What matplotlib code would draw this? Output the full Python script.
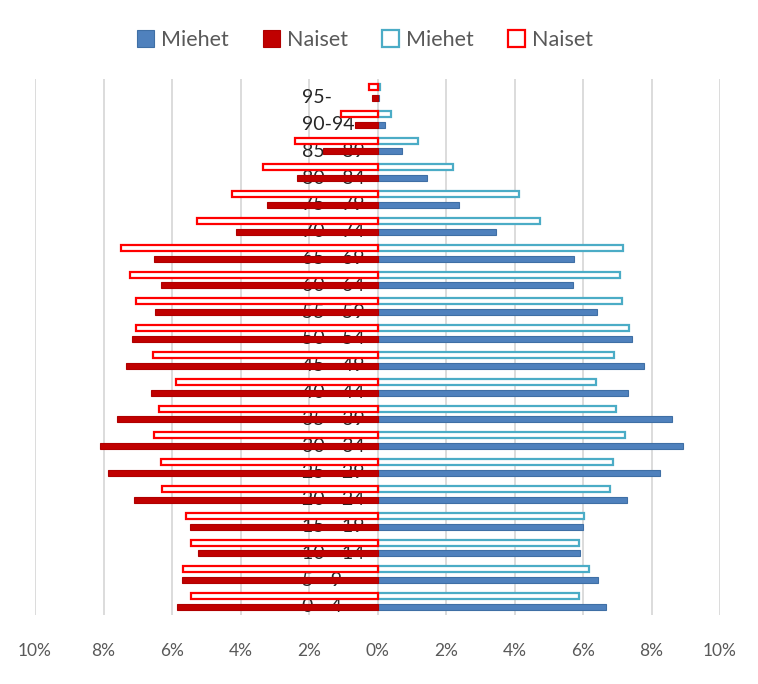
import matplotlib.pyplot as plt
import numpy as np

# age groups, bottom to top
ages = ['0 - 4', '5 - 9', '10 - 14', '15 - 19', '20 - 24', '25 - 29', '30 - 34',
        '35 - 39', '40 - 44', '45 - 49', '50 - 54', '55 - 59', '60 - 64',
        '65 - 69', '70 - 74', '75 - 79', '80 - 84', '85 - 89', '90-94', '95-']

# filled bars (%)
miehet_a = [6.68, 6.44, 5.91, 5.99, 7.28, 8.24, 8.92, 8.59, 7.32, 7.78, 7.43, 6.41,
            5.71, 5.74, 3.47, 2.38, 1.45, 0.72, 0.23, 0.05]
naiset_a = [5.86, 5.71, 5.25, 5.48, 7.11, 7.87, 8.10, 7.60, 6.61, 7.35, 7.17, 6.49,
            6.32, 6.52, 4.14, 3.24, 2.36, 1.58, 0.67, 0.17]
# outlined bars (%)
miehet_b = [5.89, 6.17, 5.88, 6.03, 6.80, 6.87, 7.22, 6.96, 6.38, 6.91, 7.35, 7.14,
            7.08, 7.16, 4.74, 4.12, 2.19, 1.17, 0.38, 0.06]
naiset_b = [5.45, 5.69, 5.45, 5.60, 6.30, 6.33, 6.53, 6.38, 5.88, 6.56, 7.05, 7.05,
            7.22, 7.50, 5.28, 4.26, 3.35, 2.42, 1.08, 0.26]

xticks = [-10, -8, -6, -4, -2, 0, 2, 4, 6, 8, 10]

plt.rcParams['font.family'] = ['Lato', 'DejaVu Sans']

fig = plt.figure(figsize=(7.58, 6.84), dpi=100)
ax = fig.add_axes([35/758, 1 - 615/684, 685/758, 536/684])

y = np.arange(len(ages))
h = 0.22
off = 0.2

ax.barh(y - off, miehet_a, height=h, color='#4F81BD', edgecolor='#3F6FA5',
        linewidth=0.8, zorder=3, label='Miehet')
ax.barh(y - off, -np.array(naiset_a), height=h, color='#C00000', edgecolor='#B00000',
        linewidth=0.8, zorder=3, label='Naiset')
ax.barh(y + off, miehet_b, height=h, color='white', edgecolor='#4BACC6',
        linewidth=1.6, zorder=3, label='Miehet')
ax.barh(y + off, -np.array(naiset_b), height=h, color='white', edgecolor='#FF0000',
        linewidth=1.6, zorder=3, label='Naiset')

# age labels sit under the bars, centred on the filled bar
for i, a in enumerate(ages):
    ax.text(-2.2, i - off, a, ha='left', va='center', fontsize=14,
            color='#262626', zorder=2)

ax.set_xlim(-10, 10)
ax.set_ylim(-0.5, len(ages) - 0.5)
ax.set_xticks(xticks)
ax.set_xticklabels([f'{abs(v)}%' for v in xticks], fontsize=12.5, color='#595959')
ax.set_yticks([])
ax.tick_params(axis='x', length=0, pad=20)
for s in ax.spines.values():
    s.set_visible(False)
ax.grid(axis='x', color='#D9D9D9', linewidth=1.3, zorder=0)
ax.set_axisbelow(True)

fig.legend(loc='center', bbox_to_anchor=(365/758, 1 - 40/684), ncol=4, frameon=False,
           fontsize=15.5, handlelength=0.8, handleheight=0.8, handletextpad=0.3,
           columnspacing=1.6, labelcolor='#595959')

fig.savefig('out.png', dpi=100)
